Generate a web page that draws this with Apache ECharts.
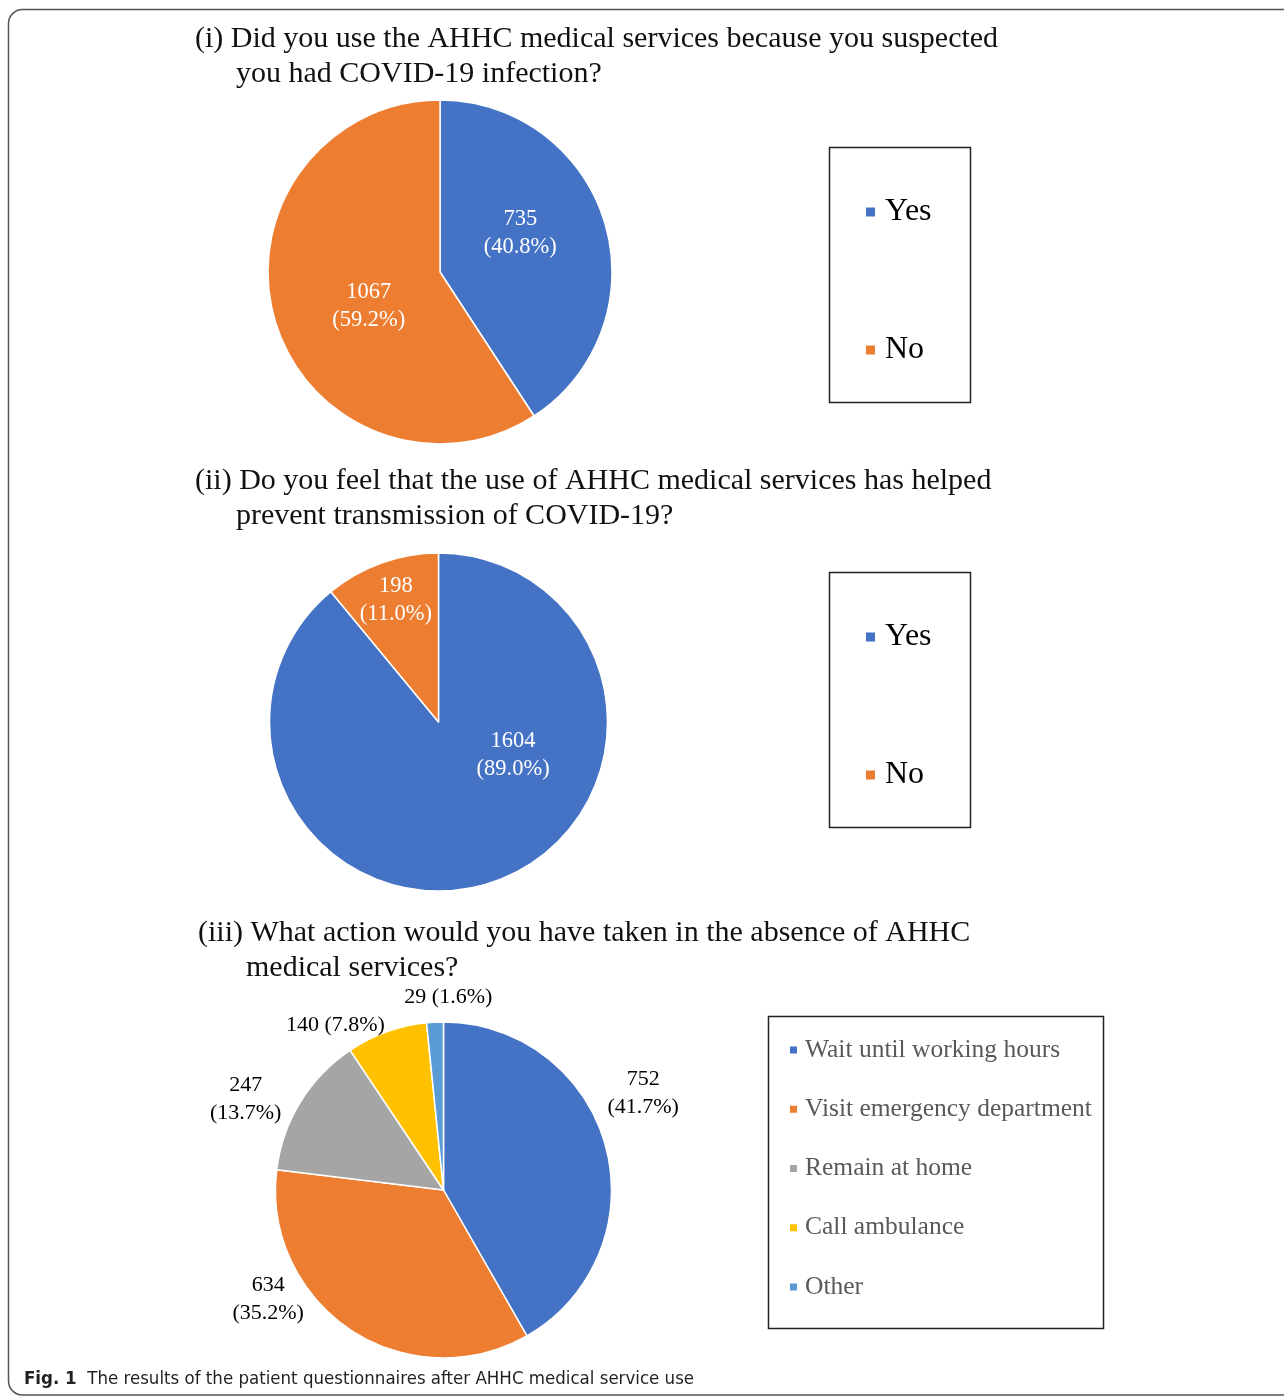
<!DOCTYPE html>
<html>
<head>
<meta charset="utf-8">
<script src="https://cdn.jsdelivr.net/npm/echarts@6/dist/echarts.min.js"></script>
<style>
html,body{margin:0;padding:0;background:#fff;}
#chart{width:1284px;height:1398px;}
</style>
</head>
<body>
<div id="chart"></div>
<script>
// ---- data ----
const q1Categories = ['Yes', 'No'];
const q1Values = [735, 1067];
const q2Categories = ['Yes', 'No'];
const q2Values = [1604, 198];
const q3Categories = ['Wait until working hours', 'Visit emergency department', 'Remain at home', 'Call ambulance', 'Other'];
const q3Values = [752, 634, 247, 140, 29];
const titleLines = [
  ['(i) Did you use the AHHC medical services because you suspected', 'you had COVID-19 infection?'],
  ['(ii) Do you feel that the use of AHHC medical services has helped', 'prevent transmission of COVID-19?'],
  ['(iii) What action would you have taken in the absence of AHHC', 'medical services?']
];
const captionBold = 'Fig. 1';
const captionText = 'The results of the patient questionnaires after AHHC medical service use';

// ---- styles ----
const serif = '"Liberation Serif", "Times New Roman", serif';
const palette = ['#4472C4', '#ED7D31', '#A5A5A5', '#FFC000', '#5B9BD5'];
const yesNoColors = ['#4472C4', '#ED7D31'];

// label nudges (Excel-like label placement), per series, per data index
const nudge1 = [[-5, -14], [14, 9]];
const nudge2 = [[45, -49], [-13, -40]];
const nudge3 = [[-23, -50], [-28, -42], [4, 4], [14, 6], [69, -11]];

function mk(cats, vals, colors) {
  return cats.map((c, i) => ({ name: c, value: vals[i], itemStyle: { color: colors[i] } }));
}
function pct(p) { return p.percent.toFixed(1) + '%'; }
function layoutWith(nudges) {
  return function (params) {
    const r = params.labelRect;
    const d = nudges[params.dataIndex] || [0, 0];
    return {
      x: r.x + r.width / 2 + d[0],
      y: r.y + r.height / 2 + d[1],
      align: 'center',
      verticalAlign: 'middle'
    };
  };
}

const chart = echarts.init(document.getElementById('chart'), null, { renderer: 'canvas' });

const titles = [];
const titlePos = [
  [{ left: 195, top: 23 }, { left: 236, top: 58 }],
  [{ left: 195, top: 465 }, { left: 236, top: 500 }],
  [{ left: 198, top: 917 }, { left: 246, top: 952 }]
];
titleLines.forEach((lines, i) => {
  lines.forEach((t, j) => {
    titles.push({
      text: t, left: titlePos[i][j].left, top: titlePos[i][j].top, padding: 0,
      textStyle: { fontFamily: serif, fontSize: 30, fontWeight: 'normal', color: '#111', lineHeight: 32 }
    });
  });
});

const innerLabel = {
  show: true, position: 'inside', color: '#fff', fontFamily: serif, fontSize: 22.5, lineHeight: 28,
  formatter: p => p.value + '\n(' + pct(p) + ')'
};

const option = {
  animation: false,
  title: titles,
  legend: [
    {
      data: q1Categories, orient: 'vertical', left: 864, top: 196, itemGap: 106,
      icon: 'rect', itemWidth: 11, itemHeight: 11, selectedMode: false, padding: 0,
      textStyle: { fontFamily: serif, fontSize: 32, color: '#000', lineHeight: 32, padding: [0, 0, 0, 4] }
    },
    {
      data: q2Categories, orient: 'vertical', left: 864, top: 621, itemGap: 106,
      icon: 'rect', itemWidth: 11, itemHeight: 11, selectedMode: false, padding: 0,
      textStyle: { fontFamily: serif, fontSize: 32, color: '#000', lineHeight: 32, padding: [0, 0, 0, 4] }
    },
    {
      data: q3Categories, orient: 'vertical', left: 788, top: 1037, itemGap: 33.25,
      icon: 'rect', itemWidth: 9, itemHeight: 9, selectedMode: false, padding: 0,
      textStyle: { fontFamily: serif, fontSize: 25.5, color: '#595959', lineHeight: 26, padding: [0, 0, 0, 2] }
    }
  ],
  series: [
    {
      type: 'pie', name: 'q1', center: [440, 272], radius: 172, startAngle: 90, clockwise: true,
      percentPrecision: 1, silent: true,
      itemStyle: { borderColor: '#fff', borderWidth: 1.5 },
      label: innerLabel, labelLine: { show: false },
      labelLayout: layoutWith(nudge1),
      data: mk(q1Categories, q1Values, yesNoColors)
    },
    {
      type: 'pie', name: 'q2', center: [438.5, 722], radius: 169, startAngle: 90, clockwise: true,
      percentPrecision: 1, silent: true,
      itemStyle: { borderColor: '#fff', borderWidth: 1.5 },
      label: innerLabel, labelLine: { show: false },
      labelLayout: layoutWith(nudge2),
      data: mk(q2Categories, q2Values, yesNoColors)
    },
    {
      type: 'pie', name: 'q3', center: [443.5, 1190], radius: 168, startAngle: 90, clockwise: true,
      percentPrecision: 1, silent: true, avoidLabelOverlap: false, minShowLabelAngle: 0,
      itemStyle: { borderColor: '#fff', borderWidth: 1.5 },
      label: {
        show: true, position: 'outside', color: '#000', fontFamily: serif, fontSize: 22, lineHeight: 28,
        alignTo: 'none', edgeDistance: 0,
        formatter: p => p.percent < 10 ? p.value + ' (' + pct(p) + ')' : p.value + '\n(' + pct(p) + ')'
      },
      labelLine: { show: false, length: 14, length2: 6 },
      labelLayout: layoutWith(nudge3),
      data: mk(q3Categories, q3Values, palette)
    }
  ],
  graphic: [
    { type: 'rect', shape: { x: 8.5, y: 9.5, width: 1400, height: 1385.5, r: 14 }, style: { fill: null, stroke: '#555', lineWidth: 1.5 }, silent: true },
    { type: 'rect', shape: { x: 829.5, y: 147.5, width: 141, height: 255 }, style: { fill: null, stroke: '#222', lineWidth: 1.5 }, silent: true },
    { type: 'rect', shape: { x: 829.5, y: 572.5, width: 141, height: 255 }, style: { fill: null, stroke: '#222', lineWidth: 1.5 }, silent: true },
    { type: 'rect', shape: { x: 768.5, y: 1016.5, width: 335, height: 312 }, style: { fill: null, stroke: '#222', lineWidth: 1.5 }, silent: true },
    {
      type: 'text', x: 24, y: 1379, silent: true,
      style: {
        text: '{b|' + captionBold + '}  ' + captionText,
        fontFamily: '"Liberation Sans Narrow", "DejaVu Sans Condensed", "Noto Sans", sans-serif',
        fontSize: 18.5, fill: '#231f20', verticalAlign: 'middle',
        rich: { b: { fontWeight: 'bold', fontSize: 18.5, fill: '#231f20', fontFamily: '"Liberation Sans Narrow", "DejaVu Sans Condensed", "Noto Sans", sans-serif' } }
      }
    }
  ]
};
chart.setOption(option);
</script>
</body>
</html>
